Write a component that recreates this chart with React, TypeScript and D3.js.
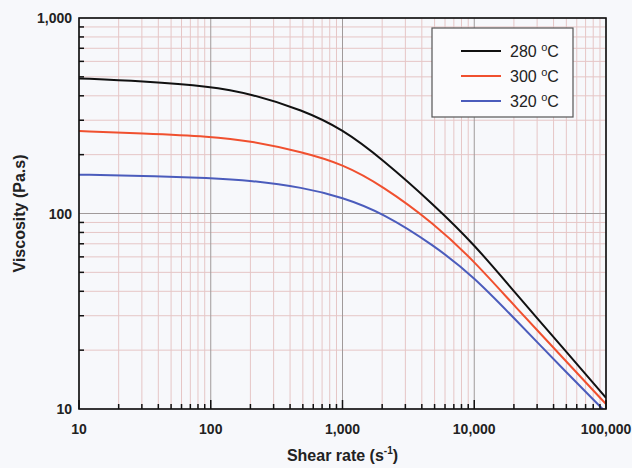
import React, {useEffect, useRef} from 'react';
import * as d3 from 'd3';

// shear rates (1/s) at which the curves were read
const shearRates = [10, 30, 100, 200, 500, 1000, 2000, 5000, 10000, 20000, 50000, 100000];
const visc280 = [491, 475, 447, 410, 338, 270, 190, 110, 69.5, 40, 19.6, 11.4];
const visc300 = [264, 257, 248, 235, 206, 179, 139, 88.5, 57, 33.9, 17.5, 10.6];
const visc320 = [158, 156, 152, 147.6, 136, 121, 101, 68.5, 47.2, 29.2, 15.4, 9.6];

const seriesNames = ['280', '300', '320'];
const seriesColors = ['#111111', '#f0502f', '#4b5cbc'];
const xTickLabels = ['10', '100', '1,000', '10,000', '100,000'];
const yTickLabels = ['10', '100', '1,000'];

const W = 632;
const H = 468;
const margin = {left: 79, right: 26, top: 18, bottom: 59};

const App = () => {
  const ref = useRef<SVGSVGElement>(null);

  useEffect(() => {
    document.body.style.margin = '0';
    const svg = d3.select(ref.current);
    svg.selectAll('*').remove();

    const x = d3.scaleLog().domain([10, 100000]).range([margin.left, W - margin.right]);
    const y = d3.scaleLog().domain([10, 1000]).range([H - margin.bottom, margin.top]);
    const font = 'Liberation Sans, Arial, sans-serif';

    svg.append('rect').attr('width', W).attr('height', H).attr('fill', '#f7f8fb');

    const xMinor: number[] = [];
    const xMajor = [10, 100, 1000, 10000, 100000];
    xMajor.slice(0, -1).forEach((d) => {
      for (let k = 2; k < 10; k++) xMinor.push(d * k);
    });
    const yMajor = [10, 100, 1000];
    const yMinor: number[] = [];
    yMajor.slice(0, -1).forEach((d) => {
      for (let k = 2; k < 10; k++) yMinor.push(d * k);
    });

    const grid = svg.append('g');
    grid.selectAll('.xm').data(xMinor).enter().append('line')
        .attr('x1', (d) => x(d)).attr('x2', (d) => x(d))
        .attr('y1', y(10)).attr('y2', y(1000))
        .attr('stroke', '#e6c6c6').attr('stroke-width', 1);
    grid.selectAll('.ym').data(yMinor).enter().append('line')
        .attr('y1', (d) => y(d)).attr('y2', (d) => y(d))
        .attr('x1', x(10)).attr('x2', x(100000))
        .attr('stroke', '#e6c6c6').attr('stroke-width', 1);
    grid.selectAll('.xM').data(xMajor).enter().append('line')
        .attr('x1', (d) => x(d)).attr('x2', (d) => x(d))
        .attr('y1', y(10)).attr('y2', y(1000))
        .attr('stroke', '#a09a9a').attr('stroke-width', 1);
    grid.selectAll('.yM').data(yMajor).enter().append('line')
        .attr('y1', (d) => y(d)).attr('y2', (d) => y(d))
        .attr('x1', x(10)).attr('x2', x(100000))
        .attr('stroke', '#a09a9a').attr('stroke-width', 1);

    // curves
    const allSeries = [visc280, visc300, visc320];
    const line = d3.line<number>()
        .x((d, i) => x(shearRates[i]))
        .y((d) => y(d))
        .curve(d3.curveBasis);

    svg.append('clipPath').attr('id', 'plotclip').append('rect')
        .attr('x', x(10)).attr('y', y(1000))
        .attr('width', x(100000) - x(10)).attr('height', y(10) - y(1000));

    svg.append('g').attr('clip-path', 'url(#plotclip)')
        .selectAll('path').data(allSeries).enter().append('path')
        .attr('d', (d) => line(d))
        .attr('fill', 'none')
        .attr('stroke', (d, i) => seriesColors[i])
        .attr('stroke-width', 2);

    // ticks
    svg.append('g').selectAll('line').data(xMinor).enter().append('line')
        .attr('x1', (d) => x(d)).attr('x2', (d) => x(d))
        .attr('y1', y(10)).attr('y2', y(10) - 5)
        .attr('stroke', '#111').attr('stroke-width', 1.5);
    svg.append('g').selectAll('line').data(xMajor).enter().append('line')
        .attr('x1', (d) => x(d)).attr('x2', (d) => x(d))
        .attr('y1', y(10)).attr('y2', y(10) - 9)
        .attr('stroke', '#111').attr('stroke-width', 1.5);
    svg.append('g').selectAll('line').data(yMinor).enter().append('line')
        .attr('y1', (d) => y(d)).attr('y2', (d) => y(d))
        .attr('x1', x(10)).attr('x2', x(10) + 5)
        .attr('stroke', '#111').attr('stroke-width', 1.5);

    // frame
    svg.append('rect')
        .attr('x', x(10)).attr('y', y(1000))
        .attr('width', x(100000) - x(10)).attr('height', y(10) - y(1000))
        .attr('fill', 'none').attr('stroke', '#111').attr('stroke-width', 1.6);

    // tick labels
    svg.append('g').selectAll('text').data(xMajor).enter().append('text')
        .attr('x', (d) => x(d)).attr('y', y(10) + 25)
        .attr('text-anchor', 'middle')
        .attr('font-family', font).attr('font-weight', 'bold').attr('font-size', 14)
        .attr('fill', '#222')
        .text((d, i) => xTickLabels[i]);
    svg.append('g').selectAll('text').data(yMajor).enter().append('text')
        .attr('x', x(10) - 7).attr('y', (d) => y(d) + 5)
        .attr('text-anchor', 'end')
        .attr('font-family', font).attr('font-weight', 'bold').attr('font-size', 14)
        .attr('fill', '#222')
        .text((d, i) => yTickLabels[i]);

    // axis titles
    const xt = svg.append('text')
        .attr('x', (x(10) + x(100000)) / 2).attr('y', 461)
        .attr('text-anchor', 'middle')
        .attr('font-family', font).attr('font-weight', 'bold').attr('font-size', 16)
        .attr('fill', '#222');
    xt.append('tspan').text('Shear rate (s');
    xt.append('tspan').attr('dy', -7).attr('font-size', 10).text('-1');
    xt.append('tspan').attr('dy', 7).text(')');

    svg.append('text')
        .attr('transform', `translate(25, ${(y(10) + y(1000)) / 2}) rotate(-90)`)
        .attr('text-anchor', 'middle')
        .attr('font-family', font).attr('font-weight', 'bold').attr('font-size', 16)
        .attr('fill', '#222')
        .text('Viscosity (Pa.s)');

    // legend
    const lg = svg.append('g');
    lg.append('rect').attr('x', 432).attr('y', 28).attr('width', 141).attr('height', 89)
        .attr('fill', '#fbfbfd').attr('stroke', '#555').attr('stroke-width', 1.2);
    seriesNames.forEach((name, i) => {
      const ly = 51 + i * 25;
      lg.append('line').attr('x1', 461).attr('x2', 501).attr('y1', ly).attr('y2', ly)
          .attr('stroke', seriesColors[i]).attr('stroke-width', 2);
      const t = lg.append('text').attr('x', 510).attr('y', ly + 6)
          .attr('font-family', font).attr('font-size', 16).attr('fill', '#222');
      t.append('tspan').text(name + ' ');
      t.append('tspan').attr('dy', -6).attr('font-size', 11).text('o');
      t.append('tspan').attr('dy', 6).text('C');
    });
  }, []);

  return <svg ref={ref} width={W} height={H} style={{display: 'block'}} />;
};

export default App;
